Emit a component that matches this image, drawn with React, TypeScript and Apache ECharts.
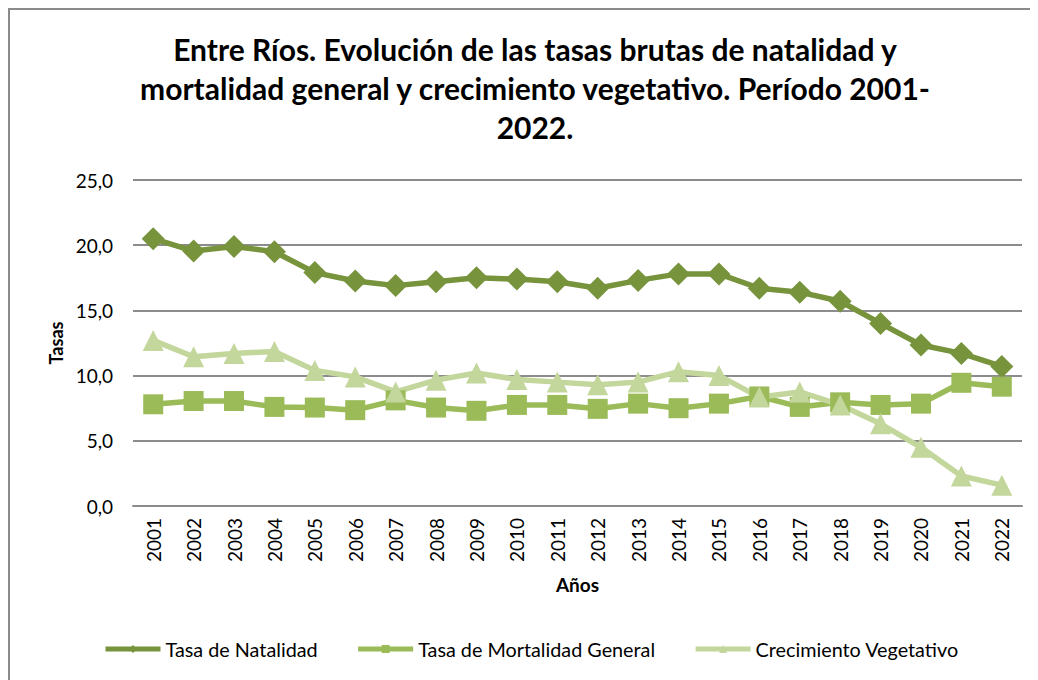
import React, { useEffect, useRef } from "react";
import * as echarts from "echarts";

const years = ["2001","2002","2003","2004","2005","2006","2007","2008","2009","2010","2011","2012","2013","2014","2015","2016","2017","2018","2019","2020","2021","2022"];
const natalidad = [20.5, 19.55, 19.9, 19.5, 17.9, 17.25, 16.9, 17.2, 17.5, 17.4, 17.2, 16.7, 17.3, 17.8, 17.8, 16.7, 16.4, 15.7, 14.0, 12.35, 11.7, 10.7];
const mortalidad = [7.8, 8.05, 8.05, 7.6, 7.55, 7.35, 8.1, 7.55, 7.3, 7.75, 7.75, 7.45, 7.85, 7.5, 7.85, 8.4, 7.6, 7.95, 7.75, 7.85, 9.45, 9.15];
const crecimiento = [12.7, 11.45, 11.7, 11.85, 10.4, 9.9, 8.75, 9.65, 10.2, 9.7, 9.5, 9.3, 9.5, 10.3, 10.0, 8.35, 8.75, 7.75, 6.3, 4.5, 2.3, 1.6];
const seriesNames = ["Tasa de Natalidad", "Tasa de Mortalidad General", "Crecimiento Vegetativo"];
const titleText = "Entre Ríos. Evolución de las tasas brutas de natalidad y\nmortalidad general y crecimiento vegetativo. Período 2001-\n2022.";

const FONT = "Lato, 'Noto Sans', sans-serif";

export default function App() {
  const ref = useRef<HTMLDivElement>(null);
  useEffect(() => {
    if (!ref.current) return;
    const chart = echarts.init(ref.current, null, { renderer: "svg" });
    chart.setOption({
      animation: false,
      backgroundColor: "#fff",
      textStyle: { fontFamily: FONT },
      graphic: [
        {
          type: "rect",
          shape: { x: 1, y: 1, width: 1100, height: 800 },
          style: { fill: "none", stroke: "#8a8a8a", lineWidth: 2 },
          silent: true,
          z: -1,
        },
      ],
      title: {
        text: titleText,
        left: 522,
        top: 16,
        textAlign: "center",
        textStyle: { fontFamily: FONT, fontWeight: "bold", fontSize: 30, lineHeight: 39, color: "#000" },
      },
      legend: {
        bottom: 16,
        left: 90,
        itemWidth: 55,
        itemHeight: 10,
        itemGap: 38,
        lineStyle: { width: 5 },
        textStyle: { fontFamily: FONT, fontSize: 19.8, color: "#000" },
        data: seriesNames,
      },
      grid: { left: 125, right: 16, top: 172, bottom: 174 },
      xAxis: {
        type: "category",
        data: years,
        boundaryGap: true,
        name: "Años",
        nameLocation: "middle",
        nameGap: 69,
        nameTextStyle: { fontFamily: FONT, fontWeight: "bold", fontSize: 19, color: "#000" },
        axisLine: { lineStyle: { color: "#8c8c8c", width: 2 } },
        axisTick: { show: false },
        axisLabel: { rotate: 90, fontSize: 19, color: "#000", margin: 12, fontFamily: FONT },
      },
      yAxis: {
        type: "value",
        min: 0,
        max: 25,
        interval: 5,
        name: "Tasas",
        nameLocation: "middle",
        nameGap: 68,
        nameRotate: 90,
        nameTextStyle: { fontFamily: FONT, fontWeight: "bold", fontSize: 18, color: "#000" },
        axisLine: { show: false },
        axisTick: { show: false },
        axisLabel: {
          fontSize: 19,
          color: "#000",
          margin: 20,
          fontFamily: FONT,
          formatter: (v: number) => v.toFixed(1).replace(".", ","),
        },
        splitLine: { lineStyle: { color: "#8c8c8c", width: 2 } },
      },
      series: [
        {
          name: seriesNames[0],
          type: "line",
          data: natalidad,
          symbol: "diamond",
          symbolSize: 23,
          color: "#77933C",
          lineStyle: { width: 5.5, color: "#77933C" },
          itemStyle: { color: "#77933C" },
        },
        {
          name: seriesNames[1],
          type: "line",
          data: mortalidad,
          symbol: "rect",
          symbolSize: 20,
          color: "#9BBB59",
          lineStyle: { width: 5.5, color: "#9BBB59" },
          itemStyle: { color: "#9BBB59" },
        },
        {
          name: seriesNames[2],
          type: "line",
          data: crecimiento,
          symbol: "triangle",
          symbolSize: 21,
          color: "#C3D69B",
          lineStyle: { width: 5.5, color: "#C3D69B" },
          itemStyle: { color: "#C3D69B" },
        },
      ],
    });
    return () => chart.dispose();
  }, []);
  return <div ref={ref} style={{ width: 1030, height: 672 }} />;
}
